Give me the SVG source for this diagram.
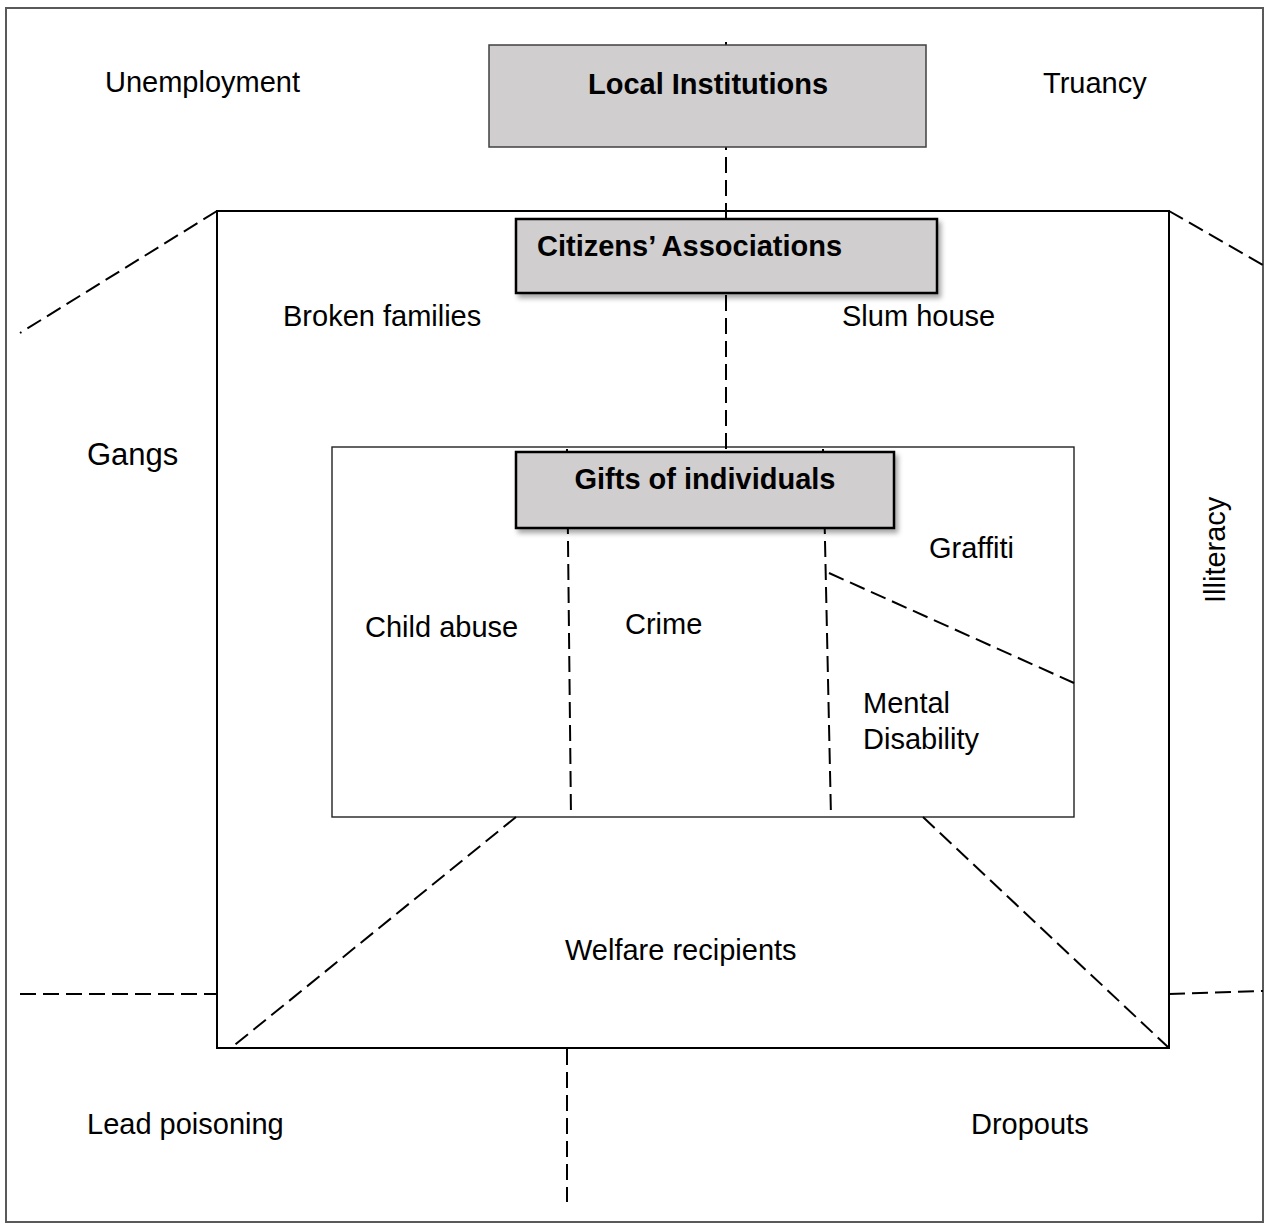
<svg xmlns="http://www.w3.org/2000/svg" width="1266" height="1230" viewBox="0 0 1266 1230">
<defs>
<filter id="shadow" x="-10%" y="-20%" width="125%" height="150%">
<feDropShadow dx="3" dy="4" stdDeviation="2.5" flood-color="#000" flood-opacity="0.35"/>
</filter>
</defs>
<style>
text{font-family:"Liberation Sans",Arial,sans-serif;font-size:29px;fill:#000}
.b{font-weight:bold}
.dash{stroke:#000;stroke-width:2;stroke-dasharray:16 7;fill:none}
.box{fill:#d0cece;stroke:#000;stroke-width:2.5}
</style>
<rect id="frame" x="6" y="8" width="1257" height="1214" fill="#fff" stroke="#595959" stroke-width="2"/>
<rect id="community" x="217" y="211" width="952" height="837" fill="none" stroke="#000" stroke-width="2"/>
<rect id="inner" x="332" y="447" width="742" height="370" fill="none" stroke="#222" stroke-width="1.4"/>
<g id="connectors">
<line class="dash" x1="726" y1="42" x2="726" y2="449"/>
<line class="dash" x1="217" y1="211" x2="20" y2="333"/>
<line class="dash" x1="1169" y1="211" x2="1263" y2="265"/>
<line class="dash" x1="567" y1="449" x2="571" y2="817"/>
<line class="dash" x1="823" y1="449" x2="831" y2="817"/>
<line class="dash" x1="829" y1="573" x2="1074" y2="683"/>
<line class="dash" x1="516" y1="817" x2="231" y2="1048"/>
<line class="dash" x1="923" y1="817" x2="1169" y2="1048"/>
<line class="dash" x1="20" y1="994" x2="217" y2="994"/>
<line class="dash" x1="1169" y1="994" x2="1263" y2="991"/>
<line class="dash" x1="567" y1="1049" x2="567" y2="1202"/>
</g>
<g id="local-institutions">
<rect x="489" y="45" width="437" height="102" fill="#d0cece" stroke="#404040" stroke-width="1.5"/>
<text class="b" x="708" y="94" text-anchor="middle">Local Institutions</text>
</g>
<g id="citizens-associations">
<rect class="box" x="516" y="219" width="421" height="74" filter="url(#shadow)"/>
<text class="b" x="537" y="256">Citizens’ Associations</text>
</g>
<g id="gifts-of-individuals">
<rect class="box" x="516" y="452" width="378" height="76" filter="url(#shadow)"/>
<text class="b" x="705" y="489" text-anchor="middle">Gifts of individuals</text>
</g>
<g id="labels">
<text x="105" y="92">Unemployment</text>
<text x="1043" y="93">Truancy</text>
<text x="283" y="326">Broken families</text>
<text x="842" y="326">Slum house</text>
<text x="87" y="465" style="font-size:31px">Gangs</text>
<text x="365" y="637">Child abuse</text>
<text x="625" y="634">Crime</text>
<text x="929" y="558">Graffiti</text>
<text x="863" y="713">Mental</text>
<text x="863" y="749">Disability</text>
<text transform="translate(1225,603) rotate(-90)">Illiteracy</text>
<text x="565" y="960">Welfare recipients</text>
<text x="87" y="1134">Lead poisoning</text>
<text x="971" y="1134">Dropouts</text>
</g>
</svg>
